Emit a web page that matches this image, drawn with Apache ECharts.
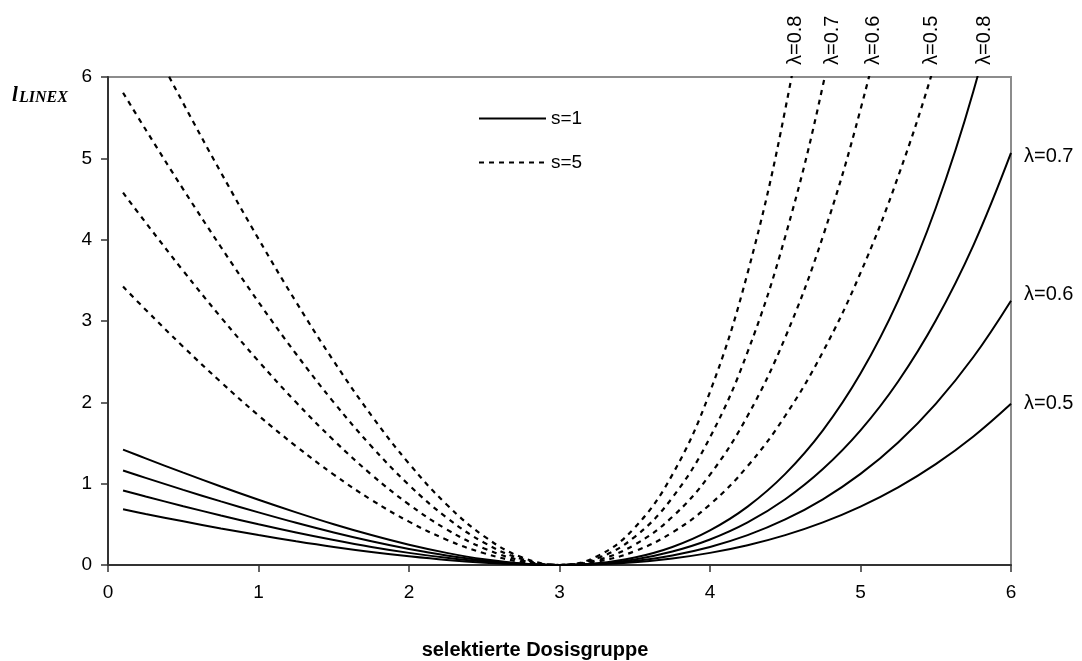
<!DOCTYPE html>
<html>
<head>
<meta charset="utf-8">
<script src="https://cdn.jsdelivr.net/npm/echarts@6/dist/echarts.min.js"></script>
<style>
  html, body { margin: 0; padding: 0; background: #fff; }
  #chart { width: 1082px; height: 661px; }
</style>
</head>
<body>
<div id="chart"></div>
<script>
// selected dose group (x positions of the sampled loss values)
const doseX = [0.1, 0.25, 0.5, 0.75, 1, 1.25, 1.5, 1.75, 2, 2.25, 2.5, 2.75, 3,
               3.25, 3.5, 3.75, 4, 4.25, 4.5, 4.75, 5, 5.25, 5.5, 5.75, 6];

// LINEX loss, s = 1
const s1L05 = [0.685, 0.628, 0.537, 0.450, 0.368, 0.292, 0.222, 0.160, 0.107, 0.062, 0.029, 0.008, 0,
               0.008, 0.034, 0.080, 0.149, 0.243, 0.367, 0.524, 0.718, 0.955, 1.240, 1.580, 1.982];
const s1L06 = [0.916, 0.842, 0.723, 0.609, 0.501, 0.400, 0.307, 0.222, 0.149, 0.088, 0.041, 0.011, 0,
               0.012, 0.050, 0.118, 0.222, 0.367, 0.560, 0.808, 1.120, 1.507, 1.982, 2.557, 3.250];
const s1L07 = [1.161, 1.071, 0.924, 0.782, 0.647, 0.519, 0.400, 0.292, 0.197, 0.117, 0.055, 0.015, 0,
               0.016, 0.069, 0.166, 0.314, 0.524, 0.808, 1.179, 1.655, 2.256, 3.005, 3.930, 5.066];
const s1L08 = [1.418, 1.311, 1.135, 0.965, 0.802, 0.647, 0.501, 0.368, 0.249, 0.149, 0.070, 0.019, 0,
               0.021, 0.092, 0.222, 0.426, 0.718, 1.120, 1.655, 2.353, 3.250, 4.389, 5.825, 7.623];

// LINEX loss, s = 5 (each list ends just past the top of the value range)
const s5L05 = [3.423, 3.139, 2.683, 2.249, 1.839, 1.460, 1.112, 0.801, 0.533, 0.311, 0.144, 0.037, 0,
               0.041, 0.170, 0.400, 0.744, 1.216, 1.835, 2.620, 3.591, 4.776, 6.202, 7.900];
const s5L06 = [4.578, 4.211, 3.616, 3.046, 2.506, 2.000, 1.533, 1.112, 0.744, 0.438, 0.204, 0.054, 0,
               0.059, 0.250, 0.592, 1.111, 1.835, 2.798, 4.039, 5.601, 7.537, 9.909];
const s5L07 = [5.807, 5.354, 4.619, 3.910, 3.233, 2.594, 2.000, 1.460, 0.983, 0.583, 0.274, 0.073, 0,
               0.082, 0.346, 0.828, 1.569, 2.620, 4.039, 5.896, 8.276, 11.279];
const s5L08 = [7.092, 6.554, 5.677, 4.827, 4.010, 3.233, 2.506, 1.840, 1.247, 0.744, 0.352, 0.094, 0,
               0.107, 0.459, 1.111, 2.128, 3.592, 5.601, 8.276, 11.765];

// axis ticks
const xTicks = [0, 1, 2, 3, 4, 5, 6];
const yTicks = [0, 1, 2, 3, 4, 5, 6];

// curve labels: where the curves leave the plot at the top, and at the right edge
const topLabelText = ['λ=0.8', 'λ=0.7', 'λ=0.6', 'λ=0.5', 'λ=0.8'];
const topLabelX = [4.571, 4.817, 5.083, 5.469, 5.822];
const rightLabelText = ['λ=0.7', 'λ=0.6', 'λ=0.5'];
const rightLabelY = [5.02, 3.33, 1.98];

const FONT = '"Liberation Sans", Arial, sans-serif';
const SERIF = '"Liberation Serif", "Times New Roman", serif';

const toPairs = vals => vals.map((v, i) => [doseX[i], v]);

const solidStyle = { color: '#000', width: 2, type: 'solid' };
const dashStyle = { color: '#000', width: 2.2, type: [5, 5] };

const curves = [
  { name: 's=1', values: s1L05, style: solidStyle },
  { name: 's=1', values: s1L06, style: solidStyle },
  { name: 's=1', values: s1L07, style: solidStyle },
  { name: 's=1', values: s1L08, style: solidStyle },
  { name: 's=5', values: s5L05, style: dashStyle },
  { name: 's=5', values: s5L06, style: dashStyle },
  { name: 's=5', values: s5L07, style: dashStyle },
  { name: 's=5', values: s5L08, style: dashStyle }
];

const chart = echarts.init(document.getElementById('chart'), null, { renderer: 'canvas' });

const axisCommon = {
  type: 'value',
  min: 0,
  max: 6,
  interval: 1,
  splitLine: { show: false },
  axisLine: { show: true, onZero: false, lineStyle: { color: '#333', width: 2 } },
  axisTick: { show: true, inside: false, length: 7, lineStyle: { color: '#333', width: 1.5 } },
  axisLabel: { color: '#000', fontSize: 19, fontFamily: FONT }
};

chart.setOption({
  animation: false,
  backgroundColor: '#fff',
  grid: {
    left: 108, right: 71, top: 77, bottom: 96,
    show: true, borderColor: '#8c8c8c', borderWidth: 2, backgroundColor: 'transparent'
  },
  legend: {
    data: ['s=1', 's=5'],
    orient: 'vertical',
    left: 473,
    top: 104,
    itemWidth: 67,
    itemHeight: 14,
    itemGap: 25,
    selectedMode: false,
    itemStyle: { opacity: 0, borderWidth: 0 },
    lineStyle: { opacity: 1 },
    textStyle: { color: '#000', fontSize: 19, fontFamily: FONT }
  },
  xAxis: Object.assign({}, axisCommon, {
    axisLabel: Object.assign({}, axisCommon.axisLabel, {
      margin: 18,
      formatter: v => (xTicks.includes(v) ? String(v) : '')
    })
  }),
  yAxis: Object.assign({}, axisCommon, {
    axisLabel: Object.assign({}, axisCommon.axisLabel, {
      margin: 16,
      formatter: v => (yTicks.includes(v) ? String(v) : '')
    })
  }),
  series: curves.map(c => ({
    type: 'line',
    name: c.name,
    data: toPairs(c.values),
    smooth: 0.4,
    symbol: 'none',
    clip: true,
    silent: true,
    lineStyle: c.style,
    itemStyle: { color: '#000' },
    emphasis: { disabled: true }
  }))
});

// text placed relative to the data coordinates of the grid
const px = pt => chart.convertToPixel({ gridIndex: 0 }, pt);

const graphics = [];
topLabelText.forEach((t, i) => {
  const p = px([topLabelX[i], 6]);
  graphics.push({
    type: 'text',
    x: p[0], y: p[1] - 12,
    rotation: Math.PI / 2,
    silent: true,
    style: { text: t, fill: '#000', fontSize: 20, fontFamily: FONT,
             align: 'left', verticalAlign: 'middle', textAlign: 'left', textVerticalAlign: 'middle' }
  });
});
rightLabelText.forEach((t, i) => {
  const p = px([6, rightLabelY[i]]);
  graphics.push({
    type: 'text',
    x: p[0] + 13, y: p[1],
    silent: true,
    style: { text: t, fill: '#000', fontSize: 20, fontFamily: FONT,
             align: 'left', verticalAlign: 'middle', textAlign: 'left', textVerticalAlign: 'middle' }
  });
});

// y-axis title: l with subscript LINEX
graphics.push({
  type: 'text', x: 12, y: 95.5, silent: true,
  style: { text: 'l', fill: '#000', fontSize: 21, fontStyle: 'italic', fontWeight: 'bold', fontFamily: SERIF,
           align: 'left', verticalAlign: 'middle', textAlign: 'left', textVerticalAlign: 'middle' }
});
graphics.push({
  type: 'text', x: 19, y: 98, silent: true,
  style: { text: 'LINEX', fill: '#000', fontSize: 16, fontStyle: 'italic', fontWeight: 'bold', fontFamily: SERIF,
           align: 'left', verticalAlign: 'middle', textAlign: 'left', textVerticalAlign: 'middle' }
});

// x-axis title
graphics.push({
  type: 'text', x: 535, y: 650, silent: true,
  style: { text: 'selektierte Dosisgruppe', fill: '#000', fontSize: 20, fontWeight: 'bold', fontFamily: FONT,
           align: 'center', verticalAlign: 'middle', textAlign: 'center', textVerticalAlign: 'middle' }
});

chart.setOption({ graphic: graphics });
</script>
</body>
</html>
